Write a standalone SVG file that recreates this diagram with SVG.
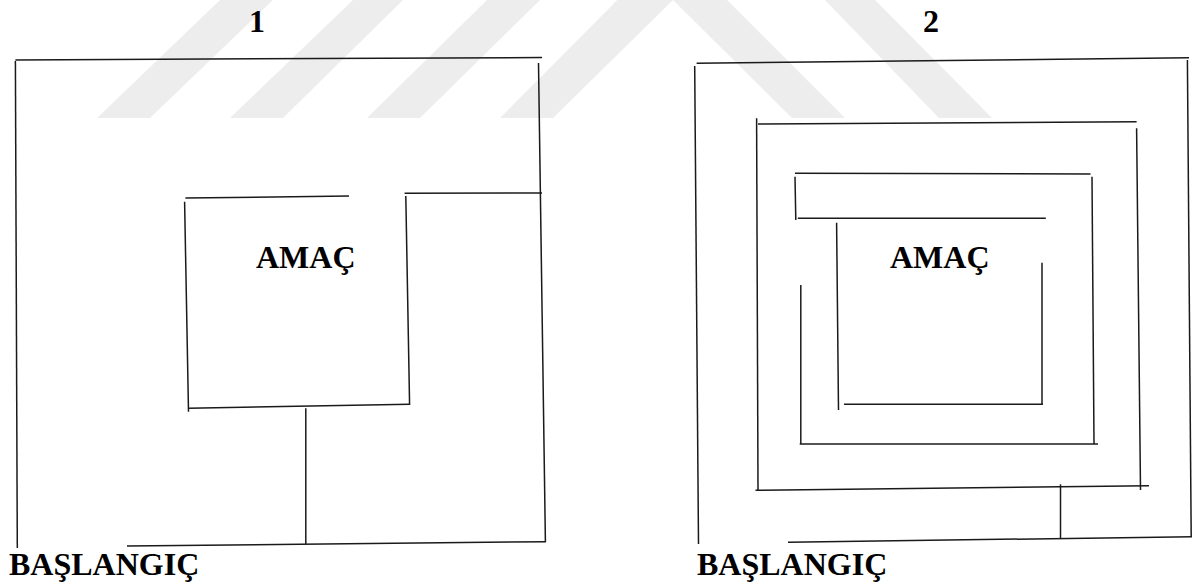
<svg xmlns="http://www.w3.org/2000/svg" width="1192" height="585" viewBox="0 0 1192 585">
<style>
.wm{fill:#ededed;stroke:none}
.wall{fill:none;stroke:#1a1a1a;stroke-width:1.5;stroke-linecap:butt}
.lbl{font-family:"Liberation Serif","Times New Roman",serif;font-weight:bold;font-size:32px;fill:#000}
</style>
<rect x="0" y="0" width="1192" height="585" fill="#ffffff"/>
<g id="watermark">
<polygon class="wm" points="97,118 150,118 273,0 220,0"/>
<polygon class="wm" points="230,118 283,118 403,0 353,0"/>
<polygon class="wm" points="367,118 420,118 540,0 487,0"/>
<polygon class="wm" points="500,118 672,-55 845,118 792,118 673,0 553,118"/>
<polygon class="wm" points="825,0 875,0 992,118 939,118"/>
</g>
<g id="maze-1">
<text class="lbl" x="257" y="32" text-anchor="middle">1</text>
<path class="wall" d="M15.4,60 L542,57.5"/>
<path class="wall" d="M15.4,61 L17.3,548"/>
<path class="wall" d="M538.5,63 L545.4,542"/>
<path class="wall" d="M404.6,193.3 L542,193"/>
<path class="wall" d="M185.4,198 L349,196"/>
<path class="wall" d="M184.6,201.7 L188.5,411.7"/>
<path class="wall" d="M405.8,196 L409.6,405"/>
<path class="wall" d="M188.5,408.3 L409.6,404.3"/>
<path class="wall" d="M305.8,408.3 L305.8,544"/>
<path class="wall" d="M127,546 L546,541.7"/>
<text class="lbl" x="256" y="268">AMAÇ</text>
<text class="lbl" x="9" y="575">BAŞLANGIÇ</text>
</g>
<g id="maze-2">
<text class="lbl" x="931" y="32" text-anchor="middle">2</text>
<path class="wall" d="M696.6,63.3 L1189,57.7"/>
<path class="wall" d="M694.7,66 L698.5,544"/>
<path class="wall" d="M1187.4,60 L1191.2,536.7"/>
<path class="wall" d="M788,542.3 L1192,536.7"/>
<path class="wall" d="M758,124 L1136.6,121.7"/>
<path class="wall" d="M756.6,118.3 L758,490"/>
<path class="wall" d="M755.5,490.3 L1149,485.7"/>
<path class="wall" d="M1136.6,128.3 L1140.5,490"/>
<path class="wall" d="M1060.5,484.3 L1060.5,538.3"/>
<path class="wall" d="M795,173.3 L1090.5,174"/>
<path class="wall" d="M795,176.7 L795.8,220"/>
<path class="wall" d="M797.8,218.3 L1045.8,218.3"/>
<path class="wall" d="M1092,176.7 L1094,444"/>
<path class="wall" d="M799.7,444 L1098,444"/>
<path class="wall" d="M800.8,285 L800.8,444"/>
<path class="wall" d="M836.6,222.7 L838.5,410"/>
<path class="wall" d="M844,404.3 L1042.8,404.3"/>
<path class="wall" d="M1042,262.7 L1042,405"/>
<text class="lbl" x="890" y="268">AMAÇ</text>
<text class="lbl" x="697" y="575">BAŞLANGIÇ</text>
</g>
</svg>
